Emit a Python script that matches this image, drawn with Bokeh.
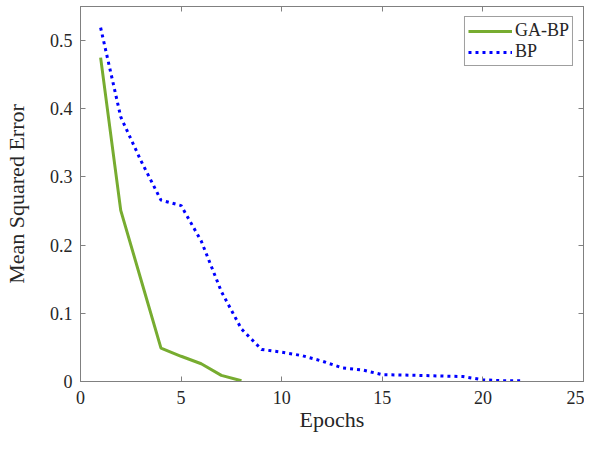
from bokeh.plotting import figure
from bokeh.models import LinearAxis, FixedTicker, CustomJSTickFormatter, Range1d, Legend, LegendItem
from bokeh.embed import file_html
from bokeh.resources import INLINE

# Data
ga_bp_epochs = [1, 2, 3, 4, 5, 6, 7, 8]
ga_bp_mse = [0.475, 0.251, 0.150, 0.049, 0.037, 0.026, 0.009, 0.001]

bp_epochs = [1, 2, 3, 4, 5, 6, 7, 8, 9, 10, 11, 12, 13, 14, 15, 16, 17, 18, 19, 20, 21, 22]
bp_mse = [0.519, 0.388, 0.324, 0.266, 0.258, 0.206, 0.132, 0.077, 0.047, 0.043, 0.038,
          0.030, 0.020, 0.017, 0.010, 0.0095, 0.0088, 0.008, 0.0072, 0.0025, 0.0012, 0.001]

x_ticks = [0, 5, 10, 15, 20, 25]
y_ticks = [0, 0.1, 0.2, 0.3, 0.4, 0.5]

FONT = "'Liberation Serif', 'Times New Roman', serif"
AXIS_COLOR = "#808080"
TEXT_COLOR = "#262626"

p = figure(width=584, height=434, output_backend="svg", toolbar_location=None,
           x_range=Range1d(0, 25), y_range=Range1d(0, 0.55),
           min_border_left=78, min_border_right=1, min_border_top=6, min_border_bottom=50)

p.grid.visible = False
p.outline_line_color = AXIS_COLOR
p.outline_line_width = 1
p.background_fill_color = "white"
p.border_fill_color = "white"

g = p.line(ga_bp_epochs, ga_bp_mse, line_color="#77AC30", line_width=3)
b = p.line(bp_epochs, bp_mse, line_color="#0000FF", line_width=3, line_dash="3 4")

yfmt = CustomJSTickFormatter(code="var s = tick.toFixed(1); return s === '0.0' ? '0' : s;")

for ax in p.xaxis:
    ax.ticker = FixedTicker(ticks=x_ticks)
for ax in p.yaxis:
    ax.ticker = FixedTicker(ticks=y_ticks)
    ax.formatter = yfmt

for ax in list(p.xaxis) + list(p.yaxis):
    ax.axis_line_color = AXIS_COLOR
    ax.major_tick_line_color = AXIS_COLOR
    ax.major_tick_in = 5
    ax.major_tick_out = 0
    ax.minor_tick_line_color = None
    ax.major_label_text_font = FONT
    ax.major_label_text_font_size = "18px"
    ax.major_label_text_color = TEXT_COLOR
    ax.axis_label_text_font = FONT
    ax.axis_label_text_font_size = "22px"
    ax.axis_label_text_font_style = "normal"
    ax.axis_label_text_color = TEXT_COLOR

p.xaxis.axis_label = "Epochs"
p.yaxis.axis_label = "Mean Squared Error"
p.xaxis.major_label_standoff = 9
p.xaxis.axis_label_standoff = 0
p.xaxis.axis_label_text_line_height = 0.9
p.yaxis.major_label_standoff = 8
p.yaxis.axis_label_standoff = 18

# mirrored ticks on top and right (no labels)
top = LinearAxis(ticker=FixedTicker(ticks=x_ticks), major_label_text_font_size="1px",
                 major_label_text_color=None,
                 axis_line_color=AXIS_COLOR, major_tick_line_color=AXIS_COLOR,
                 major_tick_in=5, major_tick_out=0, minor_tick_line_color=None,
                 major_label_standoff=0)
right = LinearAxis(ticker=FixedTicker(ticks=y_ticks), major_label_text_font_size="1px",
                   major_label_text_color=None,
                   axis_line_color=AXIS_COLOR, major_tick_line_color=AXIS_COLOR,
                   major_tick_in=5, major_tick_out=0, minor_tick_line_color=None,
                   major_label_standoff=0)
p.add_layout(top, "above")
p.add_layout(right, "right")

legend = Legend(items=[LegendItem(label="GA-BP", renderers=[g]),
                       LegendItem(label="BP", renderers=[b])],
                location="top_right")
legend.label_text_font = FONT
legend.label_text_font_size = "18px"
legend.label_text_color = TEXT_COLOR
legend.glyph_width = 44
legend.glyph_height = 20
legend.label_standoff = 3
legend.spacing = 0
legend.padding = 3
legend.margin = 10
legend.border_line_color = "#404040"
legend.border_line_width = 1
legend.background_fill_color = "white"
legend.label_height = 20
p.add_layout(legend, "center")

open("out.html", "w").write(file_html(p, INLINE))
